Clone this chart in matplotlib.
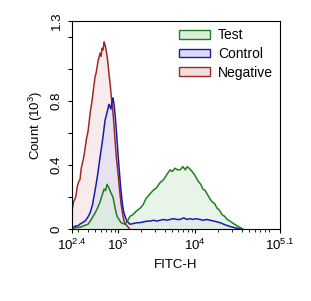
import numpy as np
import matplotlib.pyplot as plt
from matplotlib.patches import Patch

plt.rcParams['font.family'] = ['Liberation Sans', 'DejaVu Sans']
plt.rcParams['mathtext.default'] = 'regular'

# log10(FITC-H) positions and counts (x1000)
neg_lx = [2.40, 2.402, 2.405, 2.42, 2.44, 2.452, 2.47, 2.49, 2.504, 2.52, 2.54, 2.556,
          2.575, 2.59, 2.608, 2.625, 2.64, 2.66, 2.68, 2.699, 2.715, 2.738, 2.75, 2.764,
          2.778, 2.79, 2.803, 2.816, 2.83, 2.842, 2.855, 2.868, 2.88, 2.894, 2.91, 2.933,
          2.945, 2.958, 2.975, 2.997, 3.01, 3.023, 3.036, 3.049, 3.062, 3.075, 3.095,
          3.114, 3.15]
neg_y = [0.24, 0.12, 0.13, 0.17, 0.19, 0.21, 0.27, 0.30, 0.31, 0.38, 0.42, 0.46,
         0.52, 0.57, 0.61, 0.68, 0.74, 0.80, 0.88, 0.95, 0.98, 1.05, 1.07, 1.10,
         1.08, 1.13, 1.12, 1.17, 1.15, 1.12, 1.08, 1.03, 0.97, 0.91, 0.83, 0.72,
         0.65, 0.56, 0.45, 0.35, 0.28, 0.22, 0.16, 0.12, 0.08, 0.05, 0.03,
         0.02, 0.0]

ctl_lx = [2.40, 2.43, 2.45, 2.48, 2.50, 2.535, 2.569, 2.60, 2.634, 2.665, 2.699, 2.73,
          2.764, 2.795, 2.829, 2.855, 2.88, 2.905, 2.92, 2.932, 2.945, 2.958, 2.972,
          2.984, 3.0, 3.023, 3.036, 3.049, 3.062, 3.075, 3.095, 3.114, 3.153, 3.2,
          3.25, 3.283, 3.33, 3.38, 3.413, 3.46, 3.50, 3.543, 3.59, 3.63, 3.673, 3.72,
          3.76, 3.803, 3.85, 3.89, 3.932, 3.97, 4.01, 4.062, 4.10, 4.15, 4.192, 4.24,
          4.28, 4.322, 4.37, 4.426, 4.48, 4.543, 4.6]
ctl_y = [0.01, 0.015, 0.02, 0.02, 0.03, 0.04, 0.05, 0.07, 0.10, 0.15, 0.24, 0.33,
         0.45, 0.55, 0.68, 0.73, 0.78, 0.75, 0.80, 0.82, 0.78, 0.72, 0.64,
         0.56, 0.45, 0.31, 0.24, 0.18, 0.13, 0.10, 0.07, 0.05, 0.03, 0.035,
         0.04, 0.04, 0.045, 0.05, 0.05, 0.055, 0.05, 0.055, 0.06, 0.055, 0.06, 0.065,
         0.06, 0.06, 0.07, 0.06, 0.065, 0.06, 0.065, 0.06, 0.055, 0.06, 0.055, 0.05,
         0.045, 0.04, 0.03, 0.02, 0.012, 0.005, 0.0]

test_lx = [2.40, 2.45, 2.5, 2.55, 2.608, 2.65, 2.699, 2.73, 2.764, 2.79, 2.816, 2.835,
           2.855, 2.875, 2.894, 2.91, 2.932, 2.96, 2.984, 3.01, 3.036, 3.06, 3.088,
           3.12, 3.153, 3.19, 3.23, 3.283, 3.32, 3.36, 3.413, 3.45, 3.50, 3.543,
           3.59, 3.63, 3.673, 3.70, 3.738, 3.77, 3.803, 3.84, 3.87, 3.894, 3.92,
           3.958, 3.99, 4.036, 4.07, 4.1, 4.13, 4.153, 4.19, 4.218, 4.25, 4.283,
           4.31, 4.348, 4.38, 4.413, 4.45, 4.478, 4.51, 4.543, 4.58, 4.62]
test_y = [0.0, 0.01, 0.01, 0.02, 0.03, 0.06, 0.10, 0.13, 0.17, 0.21, 0.25, 0.24,
          0.28, 0.26, 0.24, 0.22, 0.20, 0.13, 0.08, 0.06, 0.04, 0.035, 0.03,
          0.05, 0.08, 0.09, 0.11, 0.13, 0.15, 0.19, 0.22, 0.24, 0.26, 0.29,
          0.31, 0.34, 0.37, 0.36, 0.38, 0.37, 0.37, 0.39, 0.37, 0.39, 0.38,
          0.36, 0.34, 0.30, 0.28, 0.25, 0.24, 0.22, 0.19, 0.17, 0.16, 0.13,
          0.12, 0.09, 0.08, 0.06, 0.05, 0.04, 0.03, 0.02, 0.01, 0.0]

series = [('Negative', neg_lx, neg_y, '#a02828', '#f3dede'),
          ('Control', ctl_lx, ctl_y, '#1a1ab4', '#dcdcf5'),
          ('Test', test_lx, test_y, '#1f7f1f', '#daeeda')]

fig = plt.figure(figsize=(3.11, 3.01), dpi=100)
ax = fig.add_axes([0.2315, 0.239, 0.669, 0.691])

for name, lx, y, lc, fc in series:
    x = 10 ** np.array(lx)
    ax.fill_between(x, y, 0, color=fc, alpha=0.6, lw=0)
    ax.plot(x, y, color=lc, lw=1.1)

ax.set_xscale('log')
ax.set_xlim(10 ** 2.4, 10 ** 5.1)
ax.set_ylim(0, 1.3)
ax.set_xticks([10 ** 2.4, 1e3, 1e4, 10 ** 5.1])
ax.set_xticklabels(['10$^{2.4}$', '10$^{3}$', '10$^{4}$', '10$^{5.1}$'], fontsize=9.5)
ax.set_yticks([0, 0.2, 0.4, 0.6, 0.8, 1.0, 1.2, 1.3])
ax.set_yticklabels(['0', '', '0.4', '', '0.8', '', '', '1.3'], fontsize=9.5,
                   rotation=90, va='center')
ax.tick_params(direction='out', length=3, width=0.8, top=False, right=False)
ax.tick_params(which='minor', length=2, width=0.6)
ax.set_xlabel('FITC-H', fontsize=9.5)
ax.set_ylabel('Count (10$^{3}$)', fontsize=9.5)

handles = [Patch(facecolor=fc, edgecolor=lc, label=name) for name, lx, y, lc, fc in series[::-1]]
ax.legend(handles=handles, loc='upper right', frameon=False, fontsize=10,
          handlelength=2.2, handleheight=0.6, borderaxespad=0.1, labelspacing=0.35,
          handletextpad=0.6)

fig.savefig('out.png', dpi=100)
